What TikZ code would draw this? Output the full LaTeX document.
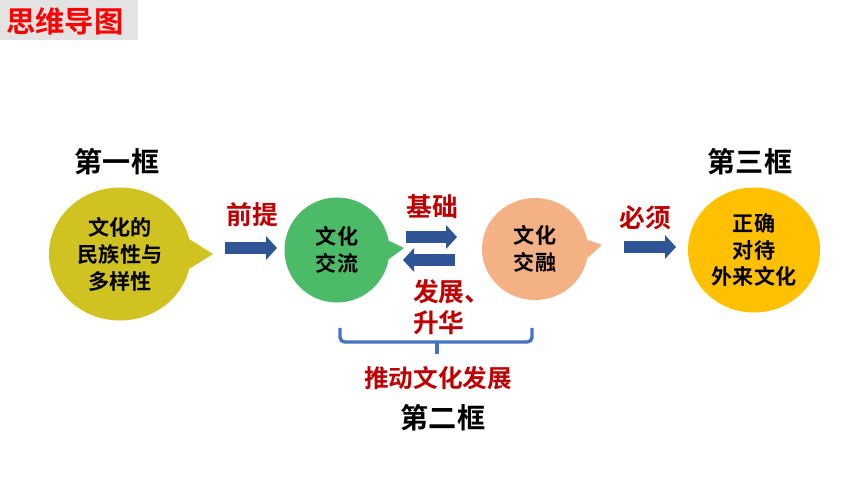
\documentclass[tikz,border=0pt]{standalone}
\usepackage{fontspec}
\setmainfont{Noto Sans CJK SC}[BoldFont={Noto Sans CJK SC Bold}]
\usetikzlibrary{shapes.geometric,arrows.meta}

\definecolor{titlered}{RGB}{255,0,0}
\definecolor{labelred}{RGB}{192,0,0}
\definecolor{arrowblue}{RGB}{47,85,151}
\definecolor{braceblue}{RGB}{68,114,196}
\definecolor{olivebubble}{RGB}{208,194,32}
\definecolor{greenbubble}{RGB}{76,187,104}
\definecolor{orangebubble}{RGB}{244,177,131}
\definecolor{goldbubble}{RGB}{255,192,0}

\tikzset{
	bubble/.style={ellipse,inner sep=0pt,align=center,font=\fontsize{18pt}{23pt}\selectfont\bfseries},
	redlabel/.style={text=labelred,align=left,font=\fontsize{22pt}{26pt}\selectfont\bfseries},
	framelabel/.style={font=\fontsize{24pt}{28pt}\selectfont\bfseries},
	bigarrow/.style={draw=arrowblue,line width=0.36cm,-{Triangle[length=0.33cm,width=0.7cm]}}
}

\begin{document}
\begin{tikzpicture}[x=0.03cm,y=-0.03cm]
	\useasboundingbox (0,0) rectangle (860,484);
	% title
	\fill[gray!22] (0,0) rectangle (138,40);
	\node[text=titlered,font=\fontsize{25pt}{28pt}\selectfont\bfseries] (title) at (65,21) {思维导图};

	% bubbles
	\node[bubble,fill=olivebubble,minimum width=4.26cm,minimum height=3.99cm] (minzu) at (120,254) {文化的\\民族性与\\多样性};
	\fill[olivebubble] (minzu.12) -- (213,254) -- (minzu.-12) -- cycle;
	\node[bubble,fill=greenbubble,minimum width=3.15cm,minimum height=3.15cm] (jiaoliu) at (337,250) {文化\\交流};
	\fill[greenbubble] (jiaoliu.10) -- (404,248) -- (jiaoliu.-10) -- cycle;
	\node[bubble,fill=orangebubble,minimum width=3.18cm,minimum height=3.06cm] (jiaorong) at (535,249) {文化\\交融};
	\fill[orangebubble] (jiaorong.10) -- (602,245) -- (jiaorong.-10) -- cycle;
	\node[bubble,fill=goldbubble,minimum width=3.96cm,minimum height=3.75cm] (duidai) at (754,250) {正确\\对待\\外来文化};

	% frame labels
	\node[framelabel] (kuang1) at (117,162) {第一框};
	\node[framelabel] (kuang3) at (750,162) {第三框};
	\node[framelabel] (kuang2) at (443,418) {第二框};

	% arrows
	\coordinate (a1) at (225,248);
	\coordinate (b1) at (277,248);
	\draw[bigarrow] (a1) -- (b1);
	\node[redlabel] (qianti) at (252,215) {前提};
	\coordinate (a2) at (406,237);
	\coordinate (b2) at (457,237);
	\draw[bigarrow] (a2) -- (b2);
	\coordinate (a3) at (455,260);
	\coordinate (b3) at (403,260);
	\draw[bigarrow] (a3) -- (b3);
	\node[redlabel] (jichu) at (432,207) {基础};
	\node[redlabel,anchor=west] (fazhan) at (409,307) {发展、\\升华};
	\coordinate (a4) at (624,247);
	\coordinate (b4) at (676,247);
	\draw[bigarrow] (a4) -- (b4);
	\node[redlabel] (bixu) at (645,218) {必须};

	% brace
	\draw[braceblue,line width=0.1cm,rounded corners=4] (340,328) -- (340,342) -- (532,342) -- (532,328);
	\draw[braceblue,line width=0.1cm] (437,342) -- (437,354);
	\node[redlabel,font=\fontsize{21pt}{25pt}\selectfont\bfseries] (tuidong) at (438,378) {推动文化发展};
\end{tikzpicture}
\end{document}
